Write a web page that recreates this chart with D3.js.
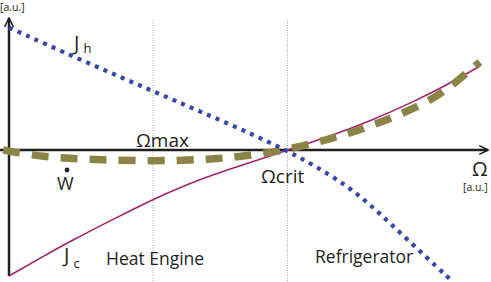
<!DOCTYPE html>
<html>
<head>
<meta charset="utf-8">
<script src="https://cdn.jsdelivr.net/npm/d3@7"></script>
<style>
  html, body { margin: 0; padding: 0; background: #fff; }
  svg text { font-family: "Open Sans", "DejaVu Sans", sans-serif; fill: #231f20; }
</style>
</head>
<body>
<svg id="chart" width="491" height="282"></svg>
<script>
// omega in a.u.
const jhOmega = [0, 1.5, 3, 4.4, 5.8, 6.7, 7.3, 8.15, 9.25];
const jhValues = [10.2, 7.5, 4.9, 2.5, 0, -2.1, -3.7, -6.9, -11];

const jcOmega = [0, 0.65, 1.42, 2.21, 3, 3.98, 5.02, 5.8, 6.69, 7.52, 8.42, 9.12, 9.81];
const jcValues = [-10.5, -9, -7.3, -5.7, -4.1, -2.4, -1.05, 0, 1.15, 2.4, 4, 5.4, 7];

const wOmega = [-0.12, 0.44, 1.06, 1.9, 3, 3.98, 4.81, 5.8, 6.69, 7.52, 8.77, 9.29, 9.81];
const wValues = [0, -0.42, -0.67, -0.83, -0.92, -0.83, -0.58, 0, 0.92, 1.92, 4, 5.58, 7.33];

const omegaMax = 3;
const omegaCrit = 5.8;

const svg = d3.select("#chart");
const x = d3.scaleLinear().domain([0, 10]).range([9, 489]);
const y = d3.scaleLinear().domain([-10, 10]).range([270, 30]);

const line = d3.line()
  .x(d => x(d[0]))
  .y(d => y(d[1]))
  .curve(d3.curveBasis);

// vertical markers
svg.selectAll(".vline")
  .data([omegaMax, omegaCrit])
  .join("line")
    .attr("x1", d => x(d)).attr("x2", d => x(d))
    .attr("y1", 20).attr("y2", 282)
    .attr("stroke", "#8a8a8a")
    .attr("stroke-width", 0.8)
    .attr("stroke-dasharray", "1,1.5");

// arrow marker
svg.append("defs").append("marker")
  .attr("id", "arrow")
  .attr("viewBox", "0 0 10 10")
  .attr("refX", 9).attr("refY", 5)
  .attr("markerWidth", 4.4).attr("markerHeight", 4.4)
  .attr("markerUnits", "strokeWidth")
  .attr("orient", "auto")
  .append("path")
    .attr("d", "M1,1 L9,5 L1,9")
    .attr("fill", "none")
    .attr("stroke", "#231f20")
    .attr("stroke-width", 1.4);

const axisColor = "#231f20";
svg.append("line")
  .attr("x1", x(-0.19)).attr("x2", x(9.98))
  .attr("y1", y(0)).attr("y2", y(0))
  .attr("stroke", axisColor).attr("stroke-width", 2.5)
  .attr("marker-end", "url(#arrow)");
svg.append("line")
  .attr("x1", x(0)).attr("x2", x(0))
  .attr("y1", y(-10.5)).attr("y2", y(11))
  .attr("stroke", axisColor).attr("stroke-width", 2.5)
  .attr("marker-end", "url(#arrow)");

// curves
svg.append("path")
  .datum(d3.zip(jcOmega, jcValues))
  .attr("d", line)
  .attr("fill", "none")
  .attr("stroke", "#a3236d")
  .attr("stroke-width", 1.6);

svg.append("path")
  .datum(d3.zip(wOmega, wValues))
  .attr("d", line)
  .attr("fill", "none")
  .attr("stroke", "#8c8447")
  .attr("stroke-width", 7.5)
  .attr("stroke-dasharray", "17,12");

svg.append("path")
  .datum(d3.zip(jhOmega, jhValues))
  .attr("d", line)
  .attr("fill", "none")
  .attr("stroke", "#3647a6")
  .attr("stroke-width", 4.2)
  .attr("stroke-dasharray", "4,5.4");

// labels
const label = (tx, ty, str, size, anchor) => svg.append("text")
  .attr("x", tx).attr("y", ty)
  .attr("font-size", size)
  .attr("text-anchor", anchor || "start")
  .text(str);

label(0, 11, "[a.u.]", 10.5);
label(463, 191, "[a.u.]", 10.5);
label(472, 176, "Ω", 20);

const jh = label(74, 50, "J", 20);
jh.append("tspan").attr("font-size", 13).attr("dx", 4).attr("dy", 3).text("h");
const jc = label(64, 262, "J", 20);
jc.append("tspan").attr("font-size", 13).attr("dx", 4).attr("dy", 6).text("c");

label(136, 147, "Ωmax", 19);
label(261, 183, "Ωcrit", 19);
label(57, 190, "W", 18);
svg.append("circle").attr("cx", 67).attr("cy", 170).attr("r", 2.4).attr("fill", "#231f20");

label(106, 265, "Heat Engine", 17.5);
label(315, 263, "Refrigerator", 17.5);
</script>
</body>
</html>
